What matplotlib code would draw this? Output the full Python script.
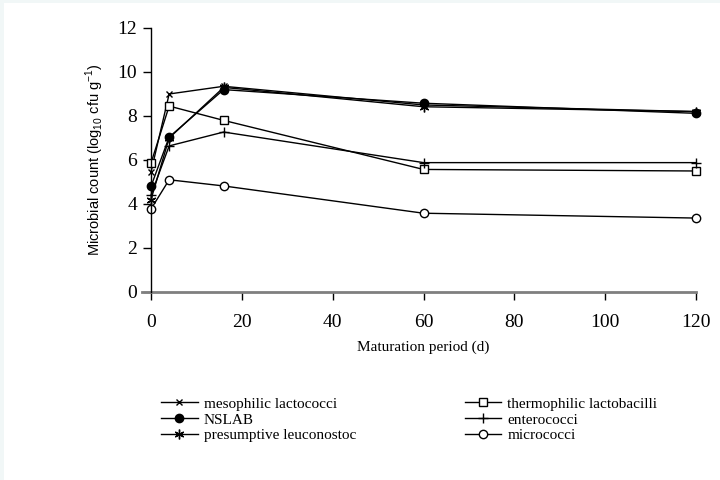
import matplotlib
matplotlib.use("Agg")
import matplotlib.pyplot as plt
from matplotlib.patches import Rectangle

plt.rcParams["mathtext.fontset"] = "custom"
plt.rcParams["mathtext.rm"] = "Liberation Sans"

days = [0, 4, 16, 60, 120]
mesophilic = [5.45, 9.0, 9.35, 8.5, 8.2]
thermophilic = [5.86, 8.45, 7.8, 5.57, 5.5]
nslab = [4.8, 7.04, 9.2, 8.58, 8.12]
enterococci = [4.4, 6.64, 7.27, 5.88, 5.88]
leuconostoc = [4.2, 7.0, 9.3, 8.42, 8.2]
micrococci = [3.77, 5.1, 4.82, 3.58, 3.36]

labels = ["mesophilic lactococci", "thermophilic lactobacilli", "NSLAB",
          "enterococci", "presumptive leuconostoc", "micrococci"]

fig = plt.figure(figsize=(7.2, 4.8), dpi=100, facecolor="white")
fig.patches.append(Rectangle((0, 0.993), 1, 0.007, transform=fig.transFigure,
                             facecolor="#f1f7f7", edgecolor="none"))
fig.patches.append(Rectangle((0, 0), 0.005, 1, transform=fig.transFigure,
                             facecolor="#f1f7f7", edgecolor="none"))

ax = fig.add_axes([0.2097, 0.3917, 0.757, 0.55])

lw = 1.0
h1, = ax.plot(days, mesophilic, color="black", lw=lw, marker="x", ms=5, mew=1.0)
h2, = ax.plot(days, thermophilic, color="black", lw=lw, marker="s", ms=6,
              mfc="white", mec="black", mew=1.0)
h3, = ax.plot(days, nslab, color="black", lw=lw, marker="o", ms=6,
              mfc="black", mec="black")
h4, = ax.plot(days, enterococci, color="black", lw=lw, marker="+", ms=7, mew=1.0)
h5, = ax.plot(days, leuconostoc, color="black", lw=lw, marker=(6, 2, 0), ms=7, mew=1.0)
h6, = ax.plot(days, micrococci, color="black", lw=lw, marker="o", ms=6,
              mfc="white", mec="black", mew=1.0)

ax.set_xlim(0, 120)
ax.set_ylim(0, 12)
ax.set_xticks([0, 20, 40, 60, 80, 100, 120])
ax.set_yticks([0, 2, 4, 6, 8, 10, 12])

for s in ["top", "right"]:
    ax.spines[s].set_visible(False)
ax.spines["left"].set_color("black")
ax.spines["left"].set_linewidth(1.0)
ax.spines["bottom"].set_color("#7f7f7f")
ax.spines["bottom"].set_linewidth(2.0)
ax.spines["bottom"].set_bounds(-2, 120)
ax.spines["left"].set_zorder(3)

ax.tick_params(axis="both", direction="out", length=6, width=1.0, color="black",
               labelsize=14, pad=4)
ax.tick_params(axis="x", pad=10)
for lab in ax.get_xticklabels() + ax.get_yticklabels():
    lab.set_fontfamily("Liberation Serif")

ax.set_xlabel("Maturation period (d)", fontfamily="Liberation Serif", fontsize=11,
              labelpad=7)
ax.set_ylabel(r"Microbial count (log$_{10}$ cfu g$^{-1}$)", fontfamily="Liberation Sans",
              fontsize=10.5, labelpad=8)

for l in ax.lines:
    l.set_clip_on(False)

leg = fig.legend([h1, h3, h5, h2, h4, h6],
                 [labels[0], labels[2], labels[4], labels[1], labels[3], labels[5]],
                 ncol=2, loc="upper left", bbox_to_anchor=(0.215, 0.186),
                 frameon=False, prop={"family": "Liberation Serif", "size": 11},
                 handlelength=2.4, handletextpad=0.4, columnspacing=7.1,
                 labelspacing=0.15, borderaxespad=0)

fig.savefig("out.png", dpi=100, facecolor=fig.get_facecolor())
